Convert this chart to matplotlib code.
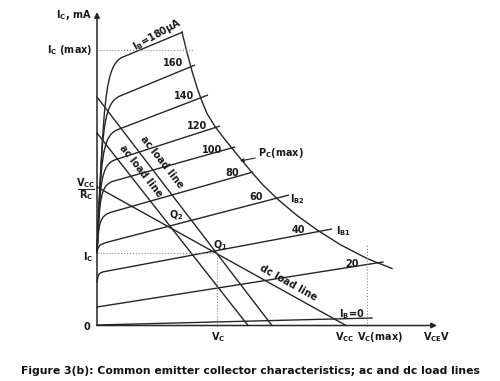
import matplotlib.pyplot as plt
from matplotlib.path import Path
from matplotlib.patches import PathPatch

plt.rcParams['font.family'] = ['DejaVu Sans']
plt.rcParams['font.weight'] = 'bold'
plt.rcParams['mathtext.default'] = 'bf'

# collector curves with a knee (I_B in uA); V_CE in V, I_C in mA (schematic units)
ib_knee = [180, 160, 140, 120, 100, 80, 60, 40]
i_start = [7.25, 7.25, 7.25, 7.25, 7.25, 7.25, 7.25, 4.25]
v_knee = [0.75, 0.55, 0.45, 0.35, 0.3, 0.2, 0.12, 0.1]
v_join = [2.6, 2.3, 2.1, 1.9, 1.7, 1.5, 1.3, 0.8]
i_join = [26.85, 22.95, 19.6, 16.6, 14.45, 11.35, 8.4, 5.4]
v_end = [8.6, 9.8, 11.1, 12.3, 13.8, 15.6, 19.2, 23.5]
i_end = [29.35, 26.05, 23.05, 19.95, 17.85, 15.35, 13.05, 9.65]

# near-straight curves for I_B = 20 and I_B = 0
ib_flat = [20, 0]
flat_v = [(0, 28.6), (0, 27.5)]
flat_i = [(1.85, 6.35), (0.05, 0.75)]

# P_C(max) hyperbola
pc_v = [8.5, 9.0, 9.5, 10.0, 10.5, 11.0, 11.8, 12.6, 13.6, 14.5, 15.5, 16.6,
        18.1, 20.0, 22.1, 24.3, 27.0, 29.5]
pc_i = [29.35, 27.3, 25.45, 23.8, 22.4, 21.2, 19.9, 18.85, 17.6, 16.5, 15.3,
        14.05, 12.6, 11.0, 9.5, 8.1, 6.7, 5.7]

# load lines and operating points
vcc = 24.9
vcc_rc = 13.85
ac1_i0, ac1_v0 = 22.85, 17.5
ac2_i0, ac2_v0 = 19.25, 15.1
v_q1, i_q1 = 12.0, 7.25
ic_max = 27.55
ic_max_v = 9.6
vc_max = 27.0
vc_max_top = 8.05

# curve labels
curve_lbl = ['160', '140', '120', '100', '80', '60', '40', '20']
curve_lbl_v = [7.6, 8.7, 10.0, 11.5, 13.5, 15.9, 20.1, 25.5]
curve_lbl_i = [26.25, 22.95, 19.95, 17.55, 15.25, 12.85, 9.55, 6.15]

ink = '#262626'
fig = plt.figure(figsize=(5, 3.81), dpi=100)
ax = fig.add_axes([0, 0, 1, 1])
ax.set_xlim(-9.7, 40.3)
ax.set_ylim(-5.55, 32.55)
ax.axis('off')

# axes with arrows
ax.annotate('', xy=(0, 31.35), xytext=(0, 0),
            arrowprops=dict(arrowstyle='-|>', color=ink, lw=1.1, mutation_scale=8, shrinkA=0, shrinkB=0))
ax.annotate('', xy=(34.0, 0), xytext=(0, 0),
            arrowprops=dict(arrowstyle='-|>', color=ink, lw=1.1, mutation_scale=8, shrinkA=0, shrinkB=0))

# knee curves: steep rise near the axis, bend, then straight run
for k in range(len(ib_knee)):
    m = (i_end[k] - i_join[k]) / (v_end[k] - v_join[k])
    c2 = (v_knee[k], i_join[k] - m * (v_join[k] - v_knee[k]))
    c1 = (v_knee[k] * 0.9, i_start[k] + 0.8 * (c2[1] - i_start[k]))
    verts = [(0, i_start[k]), c1, c2, (v_join[k], i_join[k]), (v_end[k], i_end[k])]
    codes = [Path.MOVETO, Path.CURVE4, Path.CURVE4, Path.CURVE4, Path.LINETO]
    ax.add_patch(PathPatch(Path(verts, codes), fill=False, ec=ink, lw=1.0))

for v, i in zip(flat_v, flat_i):
    ax.plot(v, i, color=ink, lw=1.0)

ax.plot(pc_v, pc_i, color=ink, lw=1.0)

# load lines
ax.plot([0, vcc], [vcc_rc, 0], color=ink, lw=1.0)
ax.plot([0, ac1_v0], [ac1_i0, 0], color=ink, lw=1.0)
ax.plot([0, ac2_v0], [ac2_i0, 0], color=ink, lw=1.0)

# dotted guides
dot = dict(color='#8a8a8a', lw=0.8, ls=':')
ax.plot([0, ic_max_v], [ic_max, ic_max], **dot)
ax.plot([0, v_q1], [i_q1, i_q1], **dot)
ax.plot([v_q1, v_q1], [0, i_q1], **dot)
ax.plot([vc_max, vc_max], [0, vc_max_top], **dot)

fs = 7
tk = dict(color='#1a1a1a', fontsize=fs, fontweight='bold')
for s, v, i in zip(curve_lbl, curve_lbl_v, curve_lbl_i):
    ax.text(v, i, s, ha='center', va='center', **tk)
ax.text(6.0, 29.05, 'I$_B$=180μA', ha='center', va='center', rotation=29, **tk)
ax.text(25.5, 1.15, 'I$_B$=0', ha='center', va='center', **tk)
ax.text(19.3, 12.65, 'I$_{B2}$', ha='left', va='center', **tk)
ax.text(23.9, 9.45, 'I$_{B1}$', ha='left', va='center', **tk)
ax.text(7.9, 11.05, 'Q$_2$', ha='center', va='center', **tk)
ax.text(12.3, 8.05, 'Q$_1$', ha='center', va='center', **tk)
ax.text(6.5, 16.35, 'ac load line', ha='center', va='center', rotation=-52, **tk)
ax.text(4.4, 15.45, 'ac load line', ha='center', va='center', rotation=-52, **tk)
ax.text(19.1, 4.25, 'dc load line', ha='center', va='center', rotation=-29, **tk)
ax.annotate('P$_C$(max)', xy=(14.3, 16.45), xytext=(16.1, 17.25), ha='left', va='center',
            arrowprops=dict(arrowstyle='-|>', color=ink, lw=0.8, mutation_scale=5, shrinkA=0, shrinkB=0),
            **tk)

# axis labels
ax.text(-0.5, 31.05, 'I$_C$, mA', ha='right', va='center', **tk)
ax.text(-0.4, ic_max, 'I$_C$ (max)', ha='right', va='center', **tk)
ax.text(-1.1, 14.25, 'V$_{CC}$', ha='center', va='center', **tk)
ax.plot([-1.9, -0.3], [13.65, 13.65], color='#1a1a1a', lw=0.7)
ax.text(-1.1, 13.0, 'R$_C$', ha='center', va='center', **tk)
ax.text(-0.4, i_q1 - 0.4, 'I$_C$', ha='right', va='center', **tk)
ax.text(-0.7, -0.15, '0', ha='right', va='center', **tk)
ax.text(v_q1 + 0.1, -0.5, 'V$_C$', ha='center', va='top', **tk)
ax.text(vcc - 0.1, -0.5, 'V$_{CC}$', ha='center', va='top', **tk)
ax.text(28.3, -0.5, 'V$_C$(max)', ha='center', va='top', **tk)
ax.text(34.0, -0.5, 'V$_{CE}$V', ha='center', va='top', **tk)

ax.text(15.3, -4.55, 'Figure 3(b): Common emitter collector characteristics; ac and dc load lines',
        ha='center', va='center', color='#111111', fontsize=7.8, fontweight='bold')

fig.savefig('out.png', dpi=100)
